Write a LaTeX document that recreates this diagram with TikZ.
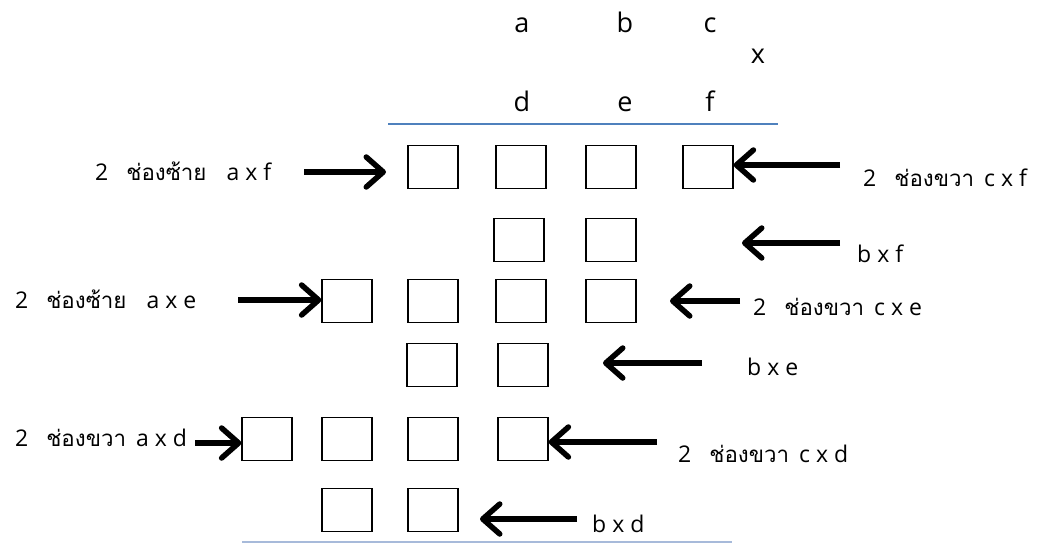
\documentclass[tikz,border=0pt]{standalone}
\usepackage{fontspec}
\setmainfont{Open Sans}
\newfontfamily\thaifont[Script=Thai,Scale=0.97]{Loma}
\usetikzlibrary{arrows.meta}
\definecolor{topblue}{HTML}{4F81BD}
\definecolor{botblue}{HTML}{A7BADA}
\tikzset{
  cell/.style={draw=black, line width=1.3pt, minimum width=50pt, minimum height=43pt, inner sep=0pt},
  arr/.style={line width=5.5pt, -{Straight Barb[length=17pt, width=30pt, line width=5.5pt, round]}},
  head/.style={font=\fontsize{27}{32}\selectfont, anchor=base, inner sep=0pt},
  lbl/.style={font=\fontsize{23}{27}\selectfont, anchor=base west, inner sep=0pt},
}
\newcommand{\thtxt}[1]{{\thaifont #1}}
\begin{document}
\begin{tikzpicture}[x=1pt, y=-1pt]
\useasboundingbox (0,0) rectangle (1044,544);
% header letters
\node[head] (ha) at (522,32) {a};
\node[head] (hb) at (625,32) {b};
\node[head] (hc) at (710,32) {c};
\node[head] (hx) at (758,63) {x};
\node[head] (hd) at (522,111) {d};
\node[head] (he) at (625,111) {e};
\node[head] (hf) at (710,111) {f};
\coordinate (tl1) at (388,124);
\coordinate (tl2) at (778,124);
\draw[topblue, line width=1.5pt] (tl1) -- (tl2);
% row 1
\node[cell] (r1a) at (433,167) {};
\node[cell] (r1b) at (521,167) {};
\node[cell] (r1c) at (611,167) {};
\node[cell] (r1d) at (708,167) {};
% row 2
\node[cell] (r2a) at (519,240) {};
\node[cell] (r2b) at (611,240) {};
% row 3
\node[cell] (r3a) at (347,301) {};
\node[cell] (r3b) at (433,301) {};
\node[cell] (r3c) at (521,301) {};
\node[cell] (r3d) at (611,301) {};
% row 4
\node[cell] (r4a) at (432,365) {};
\node[cell] (r4b) at (523,365) {};
% row 5
\node[cell] (r5a) at (267,439) {};
\node[cell] (r5b) at (347,439) {};
\node[cell] (r5c) at (433,439) {};
\node[cell] (r5d) at (523,439) {};
% row 6
\node[cell] (r6a) at (347,510) {};
\node[cell] (r6b) at (433,510) {};
\coordinate (bl1) at (242,542);
\coordinate (bl2) at (732,542);
\draw[botblue, line width=1.3pt] (bl1) -- (bl2);
% labels
\node[lbl] (l1) at (95,180) {2\hspace{18pt}\thtxt{ช่องซ้าย}\hspace{20pt}a x f};
\node[lbl] (l2) at (863,186) {2\hspace{18pt}\thtxt{ช่องขวา}\hspace{10pt}c x f};
\node[lbl] (l3) at (857,262) {b x f};
\node[lbl] (l4) at (15,308) {2\hspace{18pt}\thtxt{ช่องซ้าย}\hspace{20pt}a x e};
\node[lbl] (l5) at (753,315) {2\hspace{18pt}\thtxt{ช่องขวา}\hspace{10pt}c x e};
\node[lbl] (l6) at (747,375) {b x e};
\node[lbl] (l7) at (15,446) {2\hspace{18pt}\thtxt{ช่องขวา}\hspace{10pt}a x d};
\node[lbl] (l8) at (678,462) {2\hspace{18pt}\thtxt{ช่องขวา}\hspace{10pt}c x d};
\node[lbl] (l9) at (592,532) {b x d};
% arrows
\coordinate (a1s) at (304,172);
\coordinate (a1e) at (386,172);
\draw[arr] (a1s) -- (a1e);
\coordinate (a2s) at (840,165);
\draw[arr] (a2s) -- (r1d.east |- a2s);
\coordinate (a3s) at (840,243);
\coordinate (a3e) at (742,243);
\draw[arr] (a3s) -- (a3e);
\coordinate (a4s) at (238,300);
\draw[arr] (a4s) -- (r3a.west |- a4s);
\coordinate (a5s) at (740,301);
\coordinate (a5e) at (670,301);
\draw[arr] (a5s) -- (a5e);
\coordinate (a6s) at (702,363);
\coordinate (a6e) at (603,363);
\draw[arr] (a6s) -- (a6e);
\coordinate (a7s) at (195,443);
\draw[arr] (a7s) -- (r5a.west |- a7s);
\coordinate (a8s) at (657,442);
\draw[arr] (a8s) -- (r5d.east |- a8s);
\coordinate (a9s) at (577,519);
\coordinate (a9e) at (480,519);
\draw[arr] (a9s) -- (a9e);
\end{tikzpicture}
\end{document}
